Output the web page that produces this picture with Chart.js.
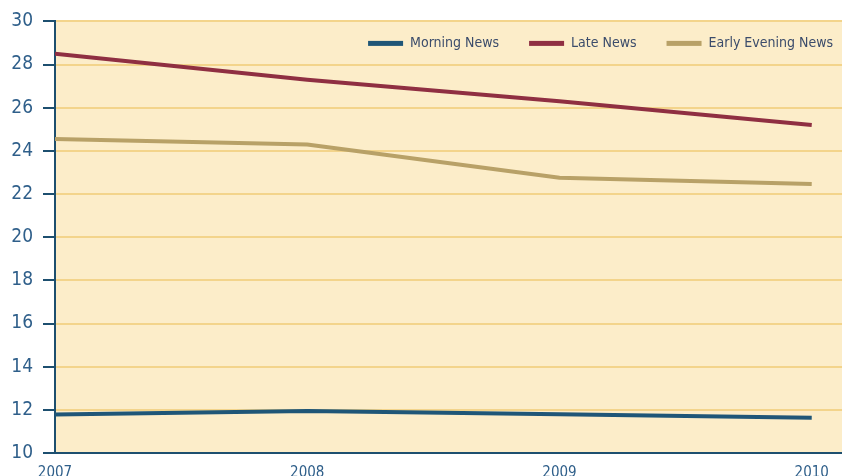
<!DOCTYPE html>
<html>
<head>
<meta charset="utf-8">
<script src="https://cdn.jsdelivr.net/npm/chart.js@4/dist/chart.umd.min.js"></script>
<style>
  html, body { margin: 0; padding: 0; background: #ffffff; }
  #wrap { width: 842px; height: 476px; position: relative; }
</style>
</head>
<body>
<div id="wrap"><canvas id="c" width="842" height="476"></canvas></div>
<script>
// Audience share by newscast, 2007-2010
const years = [2007, 2008, 2009, 2010];
const morningNews = [11.78, 11.95, 11.8, 11.63];
const lateNews = [28.5, 27.3, 26.3, 25.2];
const earlyEveningNews = [24.55, 24.3, 22.75, 22.47];
const yTicks = [10, 12, 14, 16, 18, 20, 22, 24, 26, 28, 30];

const FONT = '"Liberation Sans Narrow", "DejaVu Sans Condensed", "Arial Narrow", sans-serif';
const BG = '#fcedc9';
const GRID = '#f3d48b';
const AXIS = '#1d4f6f';

const seriesList = [
  { label: 'Morning News', values: morningNews, color: '#1f5677' },
  { label: 'Late News', values: lateNews, color: '#8f2f42' },
  { label: 'Early Evening News', values: earlyEveningNews, color: '#b8a167' }
];

const datasets = seriesList.map(s => ({
  label: s.label,
  data: years.map((yr, i) => ({ x: yr, y: s.values[i] })),
  borderColor: s.color,
  backgroundColor: s.color,
  borderWidth: 4,
  pointRadius: 0,
  tension: 0,
  borderCapStyle: 'butt'
}));

// Fills the plot area with the pale yellow panel
const panelBackground = {
  id: 'panelBackground',
  beforeDraw(chart) {
    const { ctx, chartArea: a } = chart;
    ctx.save();
    ctx.fillStyle = BG;
    ctx.fillRect(a.left, a.top, a.right - a.left, a.bottom - a.top);
    ctx.restore();
  }
};

// Legend row drawn inside the plot area, aligned to the top-right
const insideLegend = {
  id: 'insideLegend',
  afterDatasetsDraw(chart) {
    const { ctx, chartArea: a } = chart;
    const swatchW = 35, swatchH = 5, gapText = 7, gapItem = 30;
    const y = a.top + 22;
    ctx.save();
    ctx.font = '14px ' + FONT;
    ctx.textBaseline = 'middle';
    ctx.textAlign = 'left';
    let x = a.right - 9;
    const items = chart.data.datasets.slice().reverse();
    items.forEach(ds => {
      const tw = ctx.measureText(ds.label).width;
      const tx = x - tw;
      ctx.fillStyle = '#3b4c6b';
      ctx.fillText(ds.label, tx, y);
      const sx = tx - gapText - swatchW;
      ctx.fillStyle = ds.borderColor;
      ctx.fillRect(sx, y - swatchH / 2, swatchW, swatchH);
      x = sx - gapItem;
    });
    ctx.restore();
  }
};

new Chart(document.getElementById('c'), {
  type: 'line',
  data: { datasets },
  options: {
    responsive: false,
    animation: false,
    layout: { padding: { top: 21, right: 0, left: 0, bottom: 0 } },
    plugins: { legend: { display: false }, tooltip: { enabled: false } },
    scales: {
      x: {
        type: 'linear',
        min: years[0],
        max: years[years.length - 1] + 0.12,
        afterBuildTicks(scale) {
          scale.ticks = years.map(v => ({ value: v }));
        },
        afterFit(scale) { scale.height = 23; },
        grid: { display: false, drawTicks: false },
        border: { display: true, color: AXIS, width: 2 },
        ticks: {
          padding: 11,
          color: '#2f5f8a',
          font: { family: FONT, size: 15 },
          maxRotation: 0,
          autoSkip: false,
          callback: v => String(v)
        }
      },
      y: {
        min: yTicks[0],
        max: yTicks[yTicks.length - 1],
        afterBuildTicks(scale) {
          scale.ticks = yTicks.map(v => ({ value: v }));
        },
        afterFit(scale) { scale.width = 55; },
        grid: {
          color: GRID,
          lineWidth: 2,
          drawTicks: true,
          tickLength: 12,
          tickColor: AXIS,
          tickWidth: 2
        },
        border: { display: true, color: AXIS, width: 2 },
        ticks: {
          padding: 10,
          color: '#2f5f8a',
          font: { family: FONT, size: 19 }
        }
      }
    }
  },
  plugins: [panelBackground, insideLegend]
});
</script>
</body>
</html>
